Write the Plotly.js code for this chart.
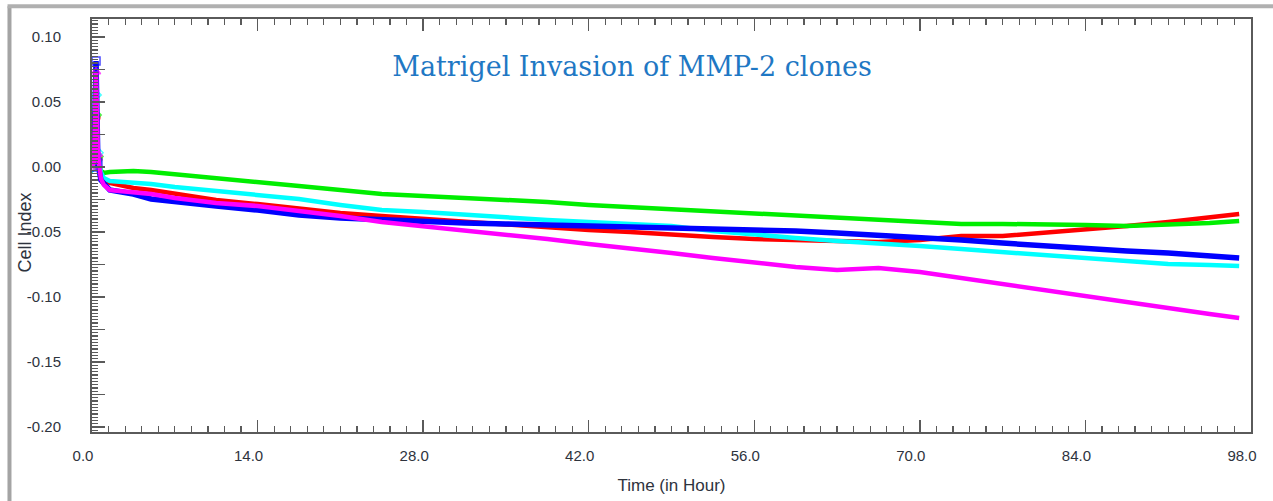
<!DOCTYPE html>
<html>
<head>
<meta charset="utf-8">
<script src="https://cdn.plot.ly/plotly-3.0.1.min.js"></script>
<style>html,body{margin:0;padding:0;background:#fff;}#chart{width:1273px;height:501px;}</style>
</head>
<body>
<div id="chart"></div>
<script>
// Time points (hours)
const hours = [0, 0.17, 0.34, 0.5, 0.75, 1.0, 1.5, 2.5, 3.5, 5, 7, 10.5, 14, 17.5, 21, 24.5, 28, 31.5, 35, 38.5, 42, 45.5, 49, 52.5, 56, 59.5, 63, 66.5, 70, 73.5, 77, 80.5, 84, 87.5, 91, 94.5, 97];

// Cell Index series
const redSeries = [0, 0.005, 0.038, 0.006, -0.006, -0.0092, -0.0123, -0.0146, -0.0162, -0.0177, -0.0208, -0.0254, -0.0285, -0.0323, -0.0354, -0.0377, -0.0400, -0.0423, -0.0438, -0.0462, -0.0485, -0.0500, -0.0523, -0.0538, -0.0554, -0.0562, -0.0569, -0.0577, -0.0562, -0.0531, -0.0531, -0.0508, -0.0485, -0.0454, -0.0423, -0.0392, -0.0362];
const greenSeries = [0, 0.003, 0.040, 0.008, -0.003, -0.0046, -0.0038, -0.0031, -0.0031, -0.0038, -0.0054, -0.0085, -0.0115, -0.0146, -0.0177, -0.0208, -0.0223, -0.0238, -0.0254, -0.0269, -0.0292, -0.0308, -0.0331, -0.0346, -0.0362, -0.0377, -0.0392, -0.0408, -0.0423, -0.0438, -0.0438, -0.0438, -0.0446, -0.0454, -0.0446, -0.0431, -0.0415];
const cyanSeries = [0, 0.008, 0.0554, 0.011, -0.004, -0.0085, -0.0108, -0.0115, -0.0123, -0.0131, -0.0154, -0.0185, -0.0215, -0.0246, -0.0292, -0.0331, -0.0346, -0.0369, -0.0392, -0.0408, -0.0423, -0.0438, -0.0454, -0.0492, -0.0523, -0.0546, -0.0569, -0.0585, -0.0608, -0.0631, -0.0654, -0.0677, -0.0700, -0.0723, -0.0746, -0.0754, -0.0762];
const blueSeries = [0, 0.006, 0.0815, 0.003, -0.010, -0.0123, -0.0177, -0.0192, -0.0208, -0.0246, -0.0269, -0.0300, -0.0331, -0.0369, -0.0392, -0.0408, -0.0415, -0.0431, -0.0438, -0.0446, -0.0454, -0.0454, -0.0462, -0.0469, -0.0477, -0.0492, -0.0508, -0.0523, -0.0546, -0.0562, -0.0585, -0.0608, -0.0623, -0.0646, -0.0662, -0.0685, -0.0700];
const magentaSeries = [0, 0.004, 0.0733, 0.010, -0.009, -0.0138, -0.0177, -0.0185, -0.0192, -0.0208, -0.0238, -0.0277, -0.0300, -0.0338, -0.0377, -0.0423, -0.0454, -0.0485, -0.0523, -0.0554, -0.0592, -0.0631, -0.0662, -0.0700, -0.0738, -0.0769, -0.0792, -0.0777, -0.0808, -0.0854, -0.0900, -0.0954, -0.1000, -0.1038, -0.1085, -0.1131, -0.1162];

// Tick labels
const yTickVals = [-0.2, -0.175, -0.15, -0.125, -0.1, -0.075, -0.05, -0.025, 0, 0.025, 0.05, 0.075, 0.1];
const yTickText = ['-0.20', '', '-0.15', '', '-0.10', '', '-0.05', '', '0.00', '', '0.05', '', '0.10'];
const xTickVals = [0, 14, 28, 42, 56, 70, 84, 98];
const xTickText = ['0.0', '14.0', '28.0', '42.0', '56.0', '70.0', '84.0', '98.0'];

const chartTitle = 'Matrigel Invasion of MMP-2 clones';
const xTitle = 'Time (in Hour)';
const yTitle = 'Cell Index';

function markerSizes(n) {
  const s = [];
  for (let i = 0; i < n; i++) s.push(i < 4 ? 8 : 0);
  return s;
}

function series(y, color, symbol, width) {
  return {
    x: hours, y: y, type: 'scatter', mode: 'lines+markers',
    line: {color: color, width: width},
    marker: {color: color, symbol: symbol, size: markerSizes(y.length), line: {color: color, width: 1.5}},
    hoverinfo: 'skip'
  };
}

const data = [
  series(redSeries, '#ff0000', 'circle-open', 4.5),
  series(greenSeries, '#00ee00', 'diamond-open', 4.5),
  series(cyanSeries, '#00ffff', 'diamond-open', 4.5),
  series(blueSeries, '#0000ff', 'square-open', 5.5),
  series(magentaSeries, '#ff00ff', 'triangle-up-open', 4.5)
];

const axisColor = '#5a5a5a';
const textColor = '#2e333d';

const layout = {
  width: 1273, height: 501, autosize: false,
  margin: {l: 92, r: 22, t: 19, b: 69},
  paper_bgcolor: '#ffffff', plot_bgcolor: '#ffffff',
  showlegend: false, hovermode: false,
  title: {
    text: chartTitle,
    font: {family: 'DejaVu Serif, Liberation Serif, serif', size: 27, color: '#1f78c4'},
    xref: 'paper', x: 0.466, xanchor: 'center',
    yref: 'container', y: 0.868, yanchor: 'middle'
  },
  xaxis: {
    range: [0, 98], showgrid: false, zeroline: false,
    showline: true, linecolor: axisColor, linewidth: 2, mirror: 'ticks',
    ticks: 'inside', ticklen: 12, tickwidth: 1.5, tickcolor: axisColor,
    tickmode: 'array', tickvals: xTickVals, ticktext: xTickText,
    ticklabelshift: -9, ticklabelstandoff: 9,
    minor: {tickmode: 'linear', tick0: 0, dtick: 1.4, ticks: 'inside', ticklen: 6, tickwidth: 1.2, tickcolor: axisColor, showgrid: false},
    tickfont: {family: 'Liberation Sans, Arial, sans-serif', size: 15, color: textColor},
    title: {text: xTitle, standoff: 16, font: {family: 'Liberation Sans, Arial, sans-serif', size: 17, color: textColor}}
  },
  yaxis: {
    range: [-0.2038, 0.1138], showgrid: false, zeroline: false,
    showline: true, linecolor: axisColor, linewidth: 2, mirror: true,
    ticks: 'inside', ticklen: 13, tickwidth: 1.5, tickcolor: axisColor,
    tickmode: 'array', tickvals: yTickVals, ticktext: yTickText,
    ticklabelstandoff: 26,
    minor: {tickmode: 'linear', tick0: 0, dtick: 0.0025, ticks: 'inside', ticklen: 6, tickwidth: 1.2, tickcolor: axisColor, showgrid: false},
    tickfont: {family: 'Liberation Sans, Arial, sans-serif', size: 15, color: textColor}
  },
  annotations: [
    {text: yTitle, textangle: -90, showarrow: false,
     xref: 'paper', x: -0.0578, xanchor: 'center',
     yref: 'paper', y: 0.483, yanchor: 'middle',
     font: {family: 'Liberation Sans, Arial, sans-serif', size: 18, color: textColor}}
  ],
  shapes: [
    {type: 'line', xref: 'paper', yref: 'paper', x0: -0.0712, x1: -0.0712, y0: 1.031, y1: -0.25, line: {color: '#a4a4a4', width: 4}},
    {type: 'line', xref: 'paper', yref: 'paper', x0: -0.0729, x1: 1.03, y0: 1.031, y1: 1.031, line: {color: '#b0b0b0', width: 4}}
  ]
};

Plotly.newPlot('chart', data, layout, {displayModeBar: false, staticPlot: true});
</script>
</body>
</html>
